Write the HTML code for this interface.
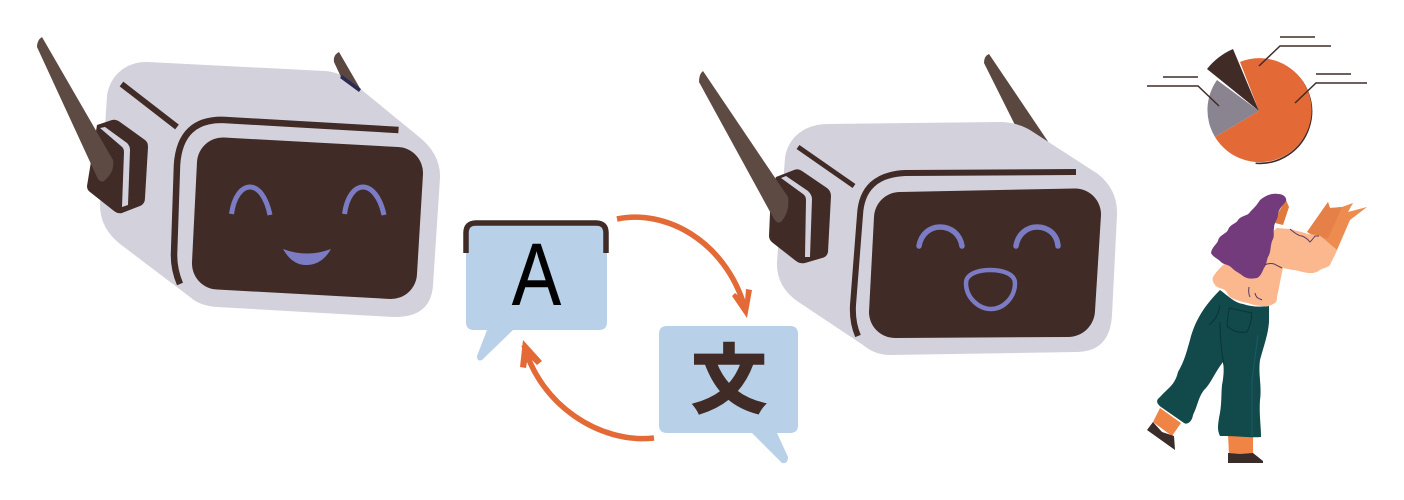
<!DOCTYPE html>
<html><head><meta charset="utf-8">
<style>html,body{margin:0;padding:0;background:#fff}svg{display:block}</style></head>
<body>
<svg width="1404" height="500" viewBox="0 0 1404 500" xmlns="http://www.w3.org/2000/svg">
<rect width="1404" height="500" fill="#fff"/>
<!-- Robot 1 -->
<path d="M148 62 L325 71 Q340 72 352 82 L418 136 Q441 154 440 178 L433 285 Q431 318 393 317 L217 307 Q200 306 190 297 L120 244 Q100 228 100 205 L107 96 C110 74 128 61 148 62Z" fill="#d3d2dc"/>
<path d="M339 52 L361 90 L341 77 L334 62 Q333 55 339 52Z" fill="#5a4740"/>
<path d="M340 78 L342 75 L361 89 L359 92Z" fill="#2b2a55"/>
<path d="M398.5 130 L225 120 Q180 118 177 165 L174 255 Q174 270 180 284" fill="none" stroke="#402b27" stroke-width="6.5"/>
<path d="M224 137.5 L398 147 A26 26 0 0 1 423 174 L417 274 A26 26 0 0 1 390 299 L217 289.5 A26 26 0 0 1 192 262 L197 162 A26 26 0 0 1 224 137.5Z" fill="#402b27"/>
<path d="M121.5 84 L177 127" stroke="#402b27" stroke-width="6" fill="none"/>
<path d="M97 125 L112 120 Q116 119 120 122 L145 140 Q148 142 148 147 L145 198 Q145 204 140 206 L122 213 Q118 214 114 211 L90 192 Q87 190 87 186 Z" fill="#402b27"/>
<path d="M100 128 L105 127 L127 143 Q130 146 130 150 L128 205 L122 207 L124 152 Q124 148 121 146Z" fill="#d3d2dc"/>
<path d="M42 37 L113 160 Q115 172 104 181 Q100 183 97 177 L37 47 Q37 40 42 37Z" fill="#5d4a43"/>
<g fill="none" stroke="#7b7cc4" stroke-width="5">
<path d="M231.5 214 C234 196 242 187 250 187 C258 187 266 196 270 215"/>
<path d="M344.5 214 C347 196 355 187 363 187 C371 187 380 196 384 215"/>
</g>
<path d="M283 249 Q307 258 331 249 Q322 265 306 265 Q292 265 283 249Z" fill="#7b7cc4"/>
<!-- Robot 2 -->
<path d="M984 63 Q984 56 989 54 L1049 143 L1015 125Z" fill="#5a4740"/>
<path d="M828 124 L1000 122 Q1016 122 1030 130 L1098 174 Q1118 190 1117 215 L1112 315 Q1110 352 1076 352 L890 355 Q875 355 863 345 L797 301 Q776 286 777 262 L785 158 C788 137 805 124 828 124Z" fill="#d3d2dc"/>
<path d="M1076 172 L905 173 Q862 175 860 215 L853 305 Q852 322 858 336" fill="none" stroke="#402b27" stroke-width="6"/>
<path d="M900 192 L1075 188.5 A26 26 0 0 1 1101 215 L1095 311 A27 27 0 0 1 1068 337 L895 338 A26 26 0 0 1 869 312 L874 217 A26 26 0 0 1 900 192Z" fill="#402b27"/>
<path d="M798 147 L854 186" stroke="#402b27" stroke-width="5" fill="none"/>
<path d="M776 177 L794 170 Q798 168 802 171 L827 188 Q831 191 831 196 L828 252 Q827 257 822 258 L805 263 Q800 264 796 261 L773 243 Q769 240 769 236 L771 190 Z" fill="#402b27"/>
<path d="M781 178 L786 176 L808 191 Q812 195 812 199 L810 257 L805 257 L806 200 Q806 196 803 194Z" fill="#d3d2dc"/>
<path d="M703 71 L788 197 Q790 212 781 222 Q777 224 774 219 L699 82 Q699 74 703 71Z" fill="#5d4a43"/>
<g fill="none" stroke="#7b7cc4" stroke-width="5.5" stroke-linecap="round">
<path d="M919 246 C921 234 930 227 940 227 C951 227 960 234 962 246"/>
<path d="M1016 246 C1018 234 1027 227 1037 227 C1048 227 1057 234 1058 246"/>
</g>
<path d="M966 283 C966 274 978 270 990 270 C1003 270 1015 274 1015 283 C1015 298 1003 309 991 309 C979 309 966 298 966 283Z" fill="none" stroke="#7b7cc4" stroke-width="4.5"/>
<!-- Bubbles -->
<path d="M474 224 H599 Q607 224 607 232 V322 Q607 330 599 330 H513 L482 360 Q477 362 477 356 L487 330 H474 Q466 330 466 322 V232 Q466 224 474 224Z" fill="#b8d0e8"/>
<path d="M466 253 V233 Q466 223 476 223 H596 Q606 223 606 233 V253" fill="none" stroke="#402b27" stroke-width="5.5"/>
<text x="512" y="305" font-family="'Liberation Sans',sans-serif" font-size="88" textLength="49" lengthAdjust="spacingAndGlyphs" fill="#000" stroke="#000" stroke-width="0.6">A</text>
<path d="M667 326 H790 Q798 326 798 334 V425 Q798 433 790 433 H777 L788 457 Q788 464 782 463 L752 433 H667 Q659 433 659 425 V334 Q659 326 667 326Z" fill="#b8d0e8"/>
<text x="729" y="406" text-anchor="middle" font-family="'Noto Sans CJK JP','Noto Sans CJK SC',sans-serif" font-size="74" font-weight="700" fill="#402b27" stroke="#402b27" stroke-width="2.5" stroke-linejoin="miter">文</text>
<!-- Arrows -->
<g fill="none" stroke="#e36a37" stroke-width="5.5">
<path d="M617 219 C665 209 725 240 745 308"/>
<path d="M654 438 C600 444 540 405 524 345"/>
</g>
<path d="M732 296 L735 293 L745 301 L746 289 L752 290 L747 318Z" fill="#e36a37"/>
<path d="M523 340 L542 361 L537 365 L528 356 L526 368 L520 367Z" fill="#e36a37"/>
<!-- Pie -->
<path d="M1286 66.6 A52 52 0 0 1 1255 162.85" fill="none" stroke="#402b27" stroke-width="1.6" transform="translate(.6 .4)"/>
<path d="M1259 111 L1240 62 A52 52 0 1 1 1215 137Z" fill="#e36a37"/>
<path d="M1259 111 L1215 137 A52 52 0 0 1 1217 80Z" fill="#8a8490"/>
<path d="M1259 111 L1207 69 A68 68 0 0 1 1233 49Z" fill="#402b27"/>
<g fill="none" stroke="#402b27" stroke-width="1.5">
<path d="M1163 77 H1198"/><path d="M1147 86 H1198 L1219 106"/>
<path d="M1280 37 H1315"/><path d="M1331 46 H1280 L1259 66"/>
<path d="M1316 74 H1351"/><path d="M1367 83 H1316 L1295 103"/>
</g>
<!-- Woman -->
<path d="M1160 408 L1181 423 L1172 436 L1153 422Z" fill="#ef8444"/>
<path d="M1153 422 L1147 430 L1175 450 L1174 436 L1162 432Z" fill="#3a2c28"/>
<path d="M1228 434 H1253 V455 H1229Z" fill="#ef8444"/>
<path d="M1228 453 L1240 454 L1253 453 L1263 461 L1263 463 L1228 463Z" fill="#3a2c28"/>
<path d="M1307 232 L1328 202 L1330 208 L1342 207 L1353 203 L1348 212 L1367 207 L1350 220 L1337 250 L1320 240Z" fill="#ee8c50"/>
<path d="M1307 232 L1328 202 L1330 208 L1342 207 L1335 223 L1328 238 L1322 238Z" fill="#e58049"/>
<path d="M1220 290 C1228 296 1235 303 1243 304 C1252 307 1260 307 1269 306 L1269 322 C1268 335 1264 345 1260 360 C1258 375 1262 385 1260 400 C1259 415 1261 425 1261 437 C1250 438 1240 436 1220 436 C1217 430 1218 425 1219 418 C1222 405 1221 395 1222 385 C1224 375 1224 368 1223 362 C1215 372 1210 385 1204 390 C1198 398 1198 405 1193 415 C1192 422 1187 425 1184 423 L1161 407 C1156 403 1156 400 1160 397 C1168 388 1175 385 1178 372 C1185 360 1187 350 1190 340 C1195 320 1205 305 1220 290Z" fill="#12494a"/>
<g fill="none" stroke="#0b3538" stroke-width="1">
<path d="M1229 308 L1252 313 Q1251 325 1247 332 Q1235 334 1227 326Z"/>
<path d="M1220 305 Q1218 318 1209 325"/>
<path d="M1220 322 Q1220 345 1224 365"/>
<path d="M1258 335 L1252 380 L1252 436" stroke="#1a5a68"/>
</g>
<path d="M1277 228 L1290 229 L1305 233 C1312 236 1318 233 1323 238 L1337 250 C1335 256 1332 260 1330 265 C1327 268 1323 268 1320 270 C1316 273 1313 273 1310 273 C1303 273 1298 270 1293 270 L1283 268 C1282 272 1281 278 1280 282 C1279 288 1278 292 1277 297 C1277 301 1276 302 1275 303 C1270 306 1266 307 1263 306 C1258 306 1253 305 1248 303 C1242 302 1235 300 1230 297 C1228 295 1227 292 1225 290 C1221 288 1217 288 1215 285 C1213 282 1212 280 1213 277 C1216 272 1219 269 1223 265 L1250 250Z" fill="#fbb78e"/>
<path d="M1286 200 L1289 207 L1287 213 L1283 225 L1275 223 L1278 213Z" fill="#e0793c"/>
<path d="M1278 194 C1284 194 1287 198 1286 201 C1283 206 1279 208 1278 214 C1278 220 1274 222 1274 228 C1273 234 1275 236 1272 241 C1270 248 1271 252 1268 257 C1266 262 1267 264 1264 268 C1262 272 1261 276 1257 278 C1252 279 1247 279 1243 276 C1238 272 1236 272 1232 268 C1228 264 1224 265 1221 262 C1217 258 1213 257 1211 253 C1212 247 1216 245 1218 241 C1219 235 1226 234 1228 230 C1230 224 1236 224 1238 220 C1242 215 1248 216 1250 212 C1254 208 1257 205 1260 200 C1265 196 1271 193 1278 194Z" fill="#743b7c"/>
<g fill="none" stroke="#5a3a60" stroke-width="1">
<path d="M1290 229 Q1298 236 1302 236 Q1307 238 1310 242 Q1312 240 1315 236 L1319 236"/>
<path d="M1264 265 Q1272 262 1276 265 L1282 268"/>
<path d="M1249 287 Q1248 293 1250 297"/>
<path d="M1255 293 Q1256 298 1260 299 L1262 300"/>
</g>
</svg>
</body></html>
